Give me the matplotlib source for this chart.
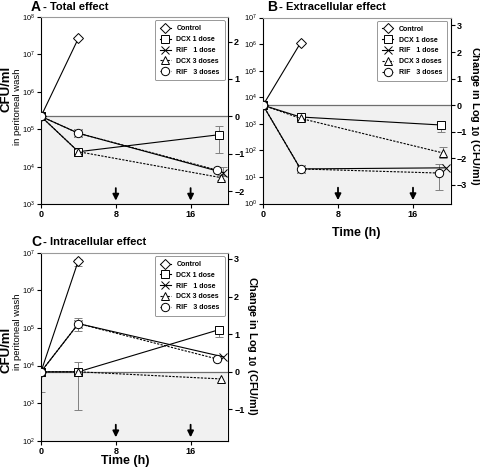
import matplotlib
matplotlib.use('Agg')
import numpy as np
import matplotlib.pyplot as plt
from matplotlib.ticker import FixedLocator, LogFormatterMathtext, NullLocator

plt.rcParams['font.family'] = ['Liberation Sans', 'DejaVu Sans']

# series shared by all three panels
labels = ["Control", "DCX 1 dose", "RIF   1 dose", "DCX 3 doses", "RIF   3 doses"]
t_control = [0, 4]
t_dcx1 = [0, 4, 19]
t_rif1 = [0, 4, 19.5]
t_dcx3 = [0, 4, 19.2]
t_rif3 = [0, 4, 18.8]

# A - total effect (CFU/ml)
a_control = [2.2e5, 2.7e7]
a_dcx1 = [2.2e5, 2.5e4, 7.1e4]
a_rif1 = [2.2e5, 7.8e4, 6.9e3]
a_dcx3 = [2.2e5, 2.5e4, 5.1e3]
a_rif3 = [2.2e5, 7.8e4, 8.1e3]
# error bars: (series index, point index, low, high)
a_err = [(1, 2, 2.3e4, 1.2e5), (2, 2, 5.5e3, 9.5e3), (3, 2, 4.3e3, 6.0e3)]

# B - extracellular effect
b_control = [5.0e3, 1.1e6]
b_dcx1 = [5.0e3, 1.8e3, 900]
b_rif1 = [5.0e3, 20, 22]
b_dcx3 = [5.0e3, 1.6e3, 80]
b_rif3 = [5.0e3, 20, 14]
b_err = [(1, 2, 500, 1.25e3), (3, 2, 50, 130), (4, 2, 3.2, 30)]

# C - intracellular effect
c_control = [6.8e3, 6.2e6]
c_dcx1 = [6.8e3, 6.8e3, 8.9e4]
c_rif1 = [6.8e3, 1.3e5, 1.7e4]
c_dcx3 = [6.8e3, 6.8e3, 4.4e3]
c_rif3 = [6.8e3, 1.3e5, 1.5e4]
c_err = [(0, 0, 2.0e3, 6.8e3), (0, 1, 4.5e6, 7.0e6), (1, 1, 660, 1.25e4),
         (1, 2, 5.6e4, 1.1e5), (2, 1, 8.5e4, 1.8e5)]

times = [t_control, t_dcx1, t_rif1, t_dcx3, t_rif3]
markers = ['D', 's', 'x', '^', 'o']
msizes = [5.5, 6, 6, 6, 6]
dash = (0, (2, 1.2))
lstyles = ['-', '-', '-', dash, dash]


def panel(ax, vals, errs, dec_lo, dec_hi, right_ticks):
    y0 = vals[0][0]
    ax.set_yscale('log')
    ax.set_xlim(0, 20)
    ax.set_ylim(10.0 ** dec_lo, 10.0 ** dec_hi)
    ax.axhspan(10.0 ** dec_lo, y0, color='#f1f1f1', zorder=0, lw=0)
    ax.axhline(y0, color='#6e6e6e', lw=0.9, zorder=1)

    for i in range(5):
        ax.plot(times[i], vals[i], ls=lstyles[i], color='k', lw=0.8,
                marker=markers[i], ms=msizes[i], mfc='white', mec='k',
                mew=0.7, label=labels[i], zorder=3)
    for si, pi, lo, hi in errs:
        v = vals[si][pi]
        ax.errorbar([times[si][pi]], [v], yerr=[[v - lo], [hi - v]], fmt='none',
                    ecolor='#808080', elinewidth=0.7, capsize=3, capthick=0.7,
                    zorder=2)

    for x in (8, 16):
        ax.annotate('', xy=(x, 0.018), xycoords=('data', 'axes fraction'),
                    xytext=(x, 0.085), textcoords=('data', 'axes fraction'),
                    arrowprops=dict(arrowstyle='-|>', color='k', lw=1.3,
                                    mutation_scale=9, shrinkA=0, shrinkB=0))

    ax.set_xticks([0, 8, 16])
    ax.yaxis.set_major_locator(FixedLocator([10.0 ** k for k in range(dec_lo, dec_hi + 1)]))
    ax.yaxis.set_major_formatter(LogFormatterMathtext())
    ax.yaxis.set_minor_locator(NullLocator())
    ax.tick_params(axis='both', direction='out', length=3, width=0.8, labelsize=5.3, pad=1.5)
    for lab in ax.get_xticklabels():
        lab.set_fontweight('bold')
        lab.set_fontsize(6.5)
    ax.spines['top'].set_color('#9a9a9a')
    ax.spines['right'].set_visible(False)
    for s in ('left', 'bottom'):
        ax.spines[s].set_linewidth(0.8)

    ax2 = ax.twinx()
    l0 = np.log10(y0)
    ax2.set_ylim(dec_lo - l0, dec_hi - l0)
    ax2.set_yticks(right_ticks)
    ax2.tick_params(axis='y', direction='out', length=3, width=0.8, labelsize=6.5, pad=1.5)
    for lab in ax2.get_yticklabels():
        lab.set_fontweight('bold')
    ax2.spines['right'].set_linewidth(0.8)
    ax2.spines['top'].set_visible(False)
    ax2.spines['left'].set_visible(False)
    ax2.spines['bottom'].set_visible(False)

    leg = ax.legend(loc='upper right', fontsize=5, handlelength=1.6,
                    borderaxespad=0.5, labelspacing=0.55, fancybox=True,
                    framealpha=1, borderpad=0.7)
    leg.get_frame().set_edgecolor('#888888')
    leg.get_frame().set_linewidth(0.6)
    for t in leg.get_texts():
        t.set_fontweight('bold')
    leg.set_zorder(5)
    ax.set_zorder(ax2.get_zorder() + 1)
    ax.patch.set_visible(False)
    return ax2


fig = plt.figure(figsize=(4.8, 4.67), dpi=100)
W, H = 480.0, 467.0

axA = fig.add_axes([41 / W, 1 - 204 / H, 187 / W, 187 / H])
axB = fig.add_axes([263 / W, 1 - 203.5 / H, 187.5 / W, 186 / H])
axC = fig.add_axes([41 / W, 1 - 440.7 / H, 187 / W, 188 / H])

panel(axA, [a_control, a_dcx1, a_rif1, a_dcx3, a_rif3], a_err, 3, 8, [-2, -1, 0, 1, 2])
panel(axB, [b_control, b_dcx1, b_rif1, b_dcx3, b_rif3], b_err, 0, 7, [-3, -2, -1, 0, 1, 2, 3])
panel(axC, [c_control, c_dcx1, c_rif1, c_dcx3, c_rif3], c_err, 2, 7, [-1, 0, 1, 2, 3])

# titles
def title(x, y, letter, text):
    fig.text(x / W, 1 - y / H, letter, fontsize=10, fontweight='bold', va='center')
    fig.text((x + 9) / W, 1 - y / H, text, fontsize=8, fontweight='bold', va='center')

title(31, 7, 'A', ' - Total effect')
title(267, 7, 'B', ' - Extracellular effect')
title(31, 242, 'C', ' - Intracellular effect')

# left axis labels
for yc in (89, 350):
    fig.text(7 / W, 1 - yc / H, 'CFU/ml', rotation=90, fontsize=9.5,
             fontweight='bold', ha='center', va='center')
for yc in (107, 332):
    fig.text(17.5 / W, 1 - yc / H, 'in peritoneal wash', rotation=90, fontsize=6.8,
             ha='center', va='center')

# right axis labels
for xc, yc in ((474.5, 116), (252, 346)):
    fig.text(xc / W, 1 - yc / H, r'Change in Log $_{\mathbf{10}}$ (CFU/ml)',
             rotation=-90, fontsize=7.8, fontweight='bold', ha='center', va='center')

# x labels
fig.text(356 / W, 1 - 233 / H, 'Time (h)', fontsize=9, fontweight='bold', ha='center', va='center')
fig.text(125 / W, 1 - 461 / H, 'Time (h)', fontsize=9, fontweight='bold', ha='center', va='center')

fig.savefig('out.png', dpi=100)
